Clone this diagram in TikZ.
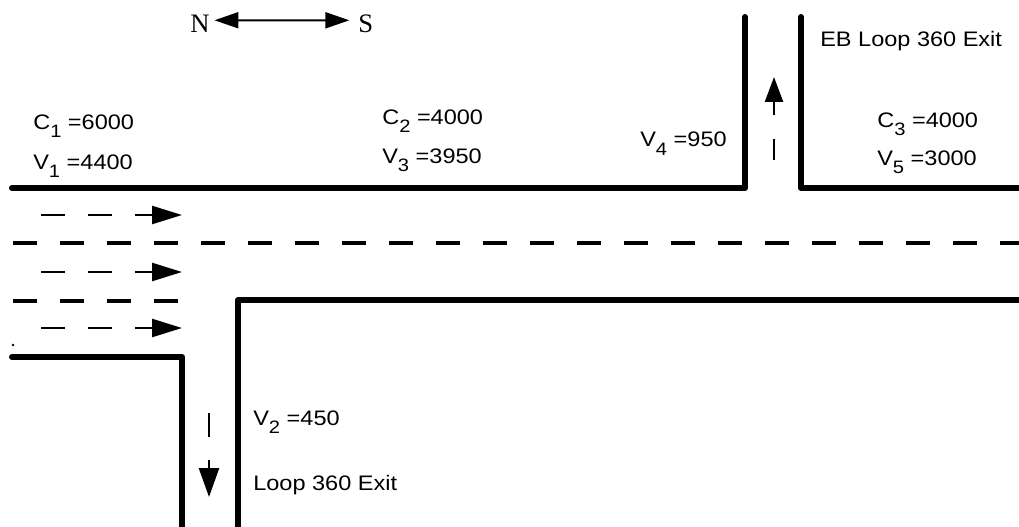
\documentclass[tikz,border=0pt]{standalone}
\usepackage{fontspec}
\usepackage{graphicx}
\setmainfont{Liberation Sans}
\newfontfamily\serifNS{Liberation Serif}
\usetikzlibrary{arrows.meta}
\newcommand\Tx[1]{\scalebox{1.12}[1]{#1}}
\newcommand\Sb[1]{\raisebox{-6pt}{\fontsize{13.5pt}{14pt}\selectfont #1}}
\begin{document}
\begin{tikzpicture}[x=0.75pt,y=-0.75pt,
  road/.style={line width=4.5pt,line cap=round,line join=round},
  lanemark/.style={line width=3.6pt,dash pattern=on 18pt off 17.25pt},
  flow/.style={line width=1.9pt,dash pattern=on 18pt off 17.25pt},
  lbl/.style={inner sep=0pt,anchor=base west,font=\fontsize{15.75pt}{18pt}\selectfont},
  dir/.style={inner sep=0pt,anchor=base west,font=\serifNS\fontsize{20pt}{22pt}\selectfont}
]
\useasboundingbox (0,0) rectangle (1019,527);

% compass
\node[dir] (N) at (190,33) {N};
\node[dir] (S) at (358,33) {S};
\draw[line width=1.5pt,{Triangle[length=18pt,width=12pt]}-{Triangle[length=18pt,width=12pt]}]
  ([xshift=3.5pt,yshift=3pt]N.east) -- ([xshift=-6.5pt,yshift=3pt]S.west);

% road edges
\draw[road] (12,188) -- (745,188) -- (745,17);
\draw[road] (801,17) -- (801,188) -- (1019,188);
\draw[road] (12,357) -- (182,357) -- (182,527);
\draw[road] (238,527) -- (238,300) -- (1019,300);

% lane markings
\draw[lanemark] (13,243) -- (1019,243);
\draw[lanemark] (13,301) -- (178,301);

% flow arrows
\coordinate (a1s) at (41,215);  \coordinate (a1e) at (182,215);
\coordinate (a2s) at (41,272);  \coordinate (a2e) at (182,272);
\coordinate (a3s) at (41,328);  \coordinate (a3e) at (182,328);
\draw[flow,-{Triangle[length=22.5pt,width=13.5pt]}] (a1s) -- (a1e);
\draw[flow,-{Triangle[length=22.5pt,width=13.5pt]}] (a2s) -- (a2e);
\draw[flow,-{Triangle[length=22.5pt,width=13.5pt]}] (a3s) -- (a3e);

\coordinate (ups) at (774,160); \coordinate (upe) at (774,77);
\draw[line width=1.9pt,dash pattern=on 16pt off 18pt,-{Triangle[length=18.75pt,width=13.5pt]}] (ups) -- (upe);
\coordinate (dns) at (209,413); \coordinate (dne) at (209,497);
\draw[flow,-{Triangle[length=21.75pt,width=15pt]}] (dns) -- (dne);

% dot
\fill (13,345) circle (1.1pt);

% labels
\node[lbl] (c1) at (33,130) {\Tx{C\Sb{1} =6000}};
\node[lbl] (v1) at (33,170) {\Tx{V\Sb{1} =4400}};
\node[lbl] (c2) at (382,125) {\Tx{C\Sb{2} =4000}};
\node[lbl] (v3) at (382,164) {\Tx{V\Sb{3} =3950}};
\node[lbl] (v4) at (640,147) {\Tx{V\Sb{4} =950}};
\node[lbl] (c3) at (877,128) {\Tx{C\Sb{3} =4000}};
\node[lbl] (v5) at (877,166) {\Tx{V\Sb{5} =3000}};
\node[lbl] (eb) at (820,47) {\Tx{EB Loop 360 Exit}};
\node[lbl] (v2) at (253,425) {\Tx{V\Sb{2} =450}};
\node[lbl] (lp) at (253,490) {\Tx{Loop 360 Exit}};
\end{tikzpicture}
\end{document}
